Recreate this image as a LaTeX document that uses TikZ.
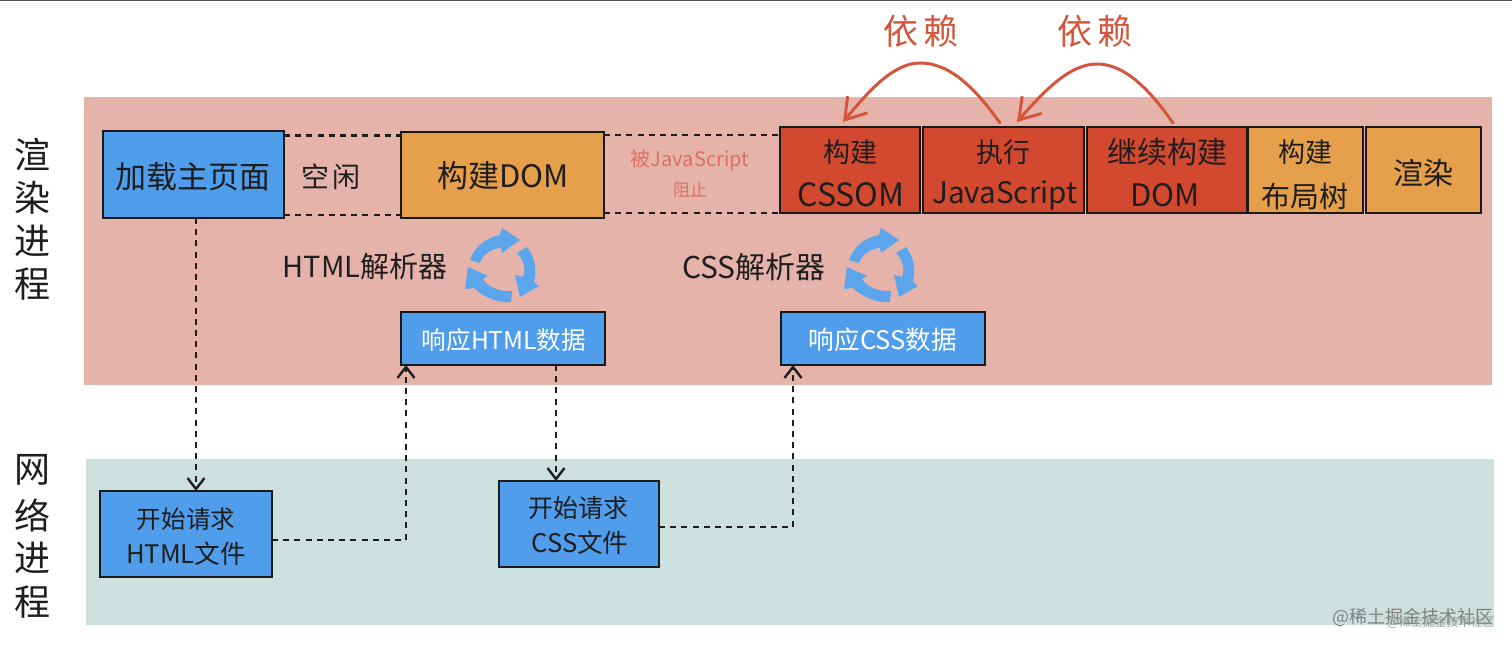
\documentclass[tikz,border=0pt]{standalone}
\usepackage{fontspec}
\setmainfont{Noto Sans CJK SC}
\usetikzlibrary{arrows.meta}
\definecolor{bandred}{HTML}{E6B3AB}
\definecolor{bandgreen}{HTML}{CCE1DE}
\definecolor{bluebox}{HTML}{4F9DEB}
\definecolor{orangebox}{HTML}{E69F4B}
\definecolor{redbox}{HTML}{D2492F}
\definecolor{curvered}{HTML}{D4553C}
\definecolor{ink}{HTML}{1E1E1E}
\definecolor{blockedtext}{HTML}{DC7068}
\definecolor{cyc}{HTML}{5AA5EC}
\newcommand{\fz}[1]{\fontsize{#1}{#1}\selectfont}
\tikzset{
  x=0.5pt,y=-0.5pt,
  flowbox/.style={draw=ink!85!black,line width=0.8pt,inner sep=0pt,outer sep=0pt},
  bluestyle/.style={flowbox,fill=bluebox},
  orangestyle/.style={flowbox,fill=orangebox},
  redstyle/.style={flowbox,fill=redbox},
  lab/.style={inner sep=0pt,outer sep=0pt,text=ink,align=center},
  dashline/.style={ink,line width=1.25pt,dash pattern=on 3pt off 2.6pt},
  conn/.style={ink,line width=1.25pt,dash pattern=on 3pt off 2.6pt,-{Straight Barb[length=5.5pt,width=8.5pt,line width=1.2pt]}},
  dep/.style={curvered,line width=1.5pt,line cap=round,-{Straight Barb[length=10pt,width=13pt,line width=1.5pt]}},
  pics/cycle/.style={code={
    \fill[cyc] (-32,-5) .. controls (-28,-18) and (-15,-28) .. (-2,-30) -- (0,-37) -- (18,-25) -- (0,-12) -- (-1,-17) .. controls (-10,-17) and (-20,-10) .. (-22,-2) -- cycle;
    \fill[cyc] (25,-18) .. controls (33,-8) and (35,5) .. (32,17) -- (37,21) -- (18,32) -- (13,10) -- (21,12) .. controls (24,4) and (22,-5) .. (15,-12) -- cycle;
    \fill[cyc] (10,26) -- (9,37) .. controls (-3,38) and (-18,33) .. (-28,23) -- (-37,24) -- (-34,2) -- (-14,11) -- (-19,14) .. controls (-14,22) and (-3,27) .. (10,26) -- cycle;
  }}
}
\begin{document}
\begin{tikzpicture}
\useasboundingbox (0,0) rectangle (1512,646);
\fill[white] (0,0) rectangle (1512,646);
\fill[black!65] (0,0) rectangle (1512,1.5);
\fill[bandred] (84,97) rectangle (1492,385);
\fill[bandgreen] (86,459) rectangle (1494,625);

% side labels
\node[lab,font=\fz{18}] (sr1) at (33,154) {渲};
\node[lab,font=\fz{18}] (sr2) at (33,198) {染};
\node[lab,font=\fz{18}] (sr3) at (33,241) {进};
\node[lab,font=\fz{18}] (sr4) at (33,284) {程};
\node[lab,font=\fz{18}] (sn1) at (33,470) {网};
\node[lab,font=\fz{18}] (sn2) at (33,515) {络};
\node[lab,font=\fz{18}] (sn3) at (33,558) {进};
\node[lab,font=\fz{18}] (sn4) at (33,602) {程};

% top row boxes
\node[bluestyle,minimum width=90.5pt,minimum height=43.5pt] (load) at (193.5,174.5) {};
\node[orangestyle,minimum width=101.5pt,minimum height=43pt] (dom) at (502.5,175) {};
\node[redstyle,minimum width=70pt,minimum height=43pt] (cssom) at (850,170) {};
\node[redstyle,minimum width=80.5pt,minimum height=43pt] (js) at (1003.5,170) {};
\node[redstyle,minimum width=80pt,minimum height=43pt] (dom2) at (1167,170) {};
\node[orangestyle,minimum width=57.5pt,minimum height=43pt] (layout) at (1305.5,170) {};
\node[orangestyle,minimum width=57.5pt,minimum height=43pt] (paint) at (1423.5,170) {};

% top row texts
\node[lab,font=\fz{15.5}] (load-t) at (193,177) {加载主页面};
\node[lab,font=\fz{14}] (idle) at (331,177) {空\hspace{1.5pt}闲};
\node[lab,font=\fz{15.5}] (dom-t) at (503,176) {构建DOM};
\node[lab,text=blockedtext,font=\fz{10}] (bl1) at (690,160) {被JavaScript};
\node[lab,text=blockedtext,font=\fz{8.5}] (bl2) at (690,190) {阻止};
\node[lab,font=\fz{13.5}] (cssom-a) at (850,152) {构建};
\node[lab,font=\fz{16}] (cssom-b) at (851,195) {CSSOM};
\node[lab,font=\fz{13.5}] (js-a) at (1003,152) {执行};
\node[lab,font=\fz{14.8}] (js-b) at (1005,195) {JavaScript};
\node[lab,font=\fz{15}] (dom2-a) at (1167,152) {继续构建};
\node[lab,font=\fz{15.5}] (dom2-b) at (1165,195) {DOM};
\node[lab,font=\fz{13.5}] (layout-a) at (1305,152) {构建};
\node[lab,font=\fz{14.5}] (layout-b) at (1305,196) {布局树};
\node[lab,font=\fz{15}] (paint-t) at (1423,173) {渲染};

% dashed edges
\draw[dashline] ([yshift=19.5pt]load.east) -- ([yshift=19.5pt]load.east -| dom.west);
\draw[dashline] ([yshift=-20.25pt]load.east) -- ([yshift=-20.25pt]load.east -| dom.west);
\draw[dashline] ([yshift=20pt]dom.east) -- ([yshift=20pt]dom.east -| cssom.west);
\draw[dashline] ([yshift=-19pt]dom.east) -- ([yshift=-19pt]dom.east -| cssom.west);

% parsers
\node[lab,font=\fz{14.5}] (hp) at (365,267) {HTML解析器};
\node[lab,font=\fz{15}] (cp) at (754,267) {CSS解析器};
\pic at (502,265) {cycle};
\pic at (881,265) {cycle};

\node[bluestyle,minimum width=102pt,minimum height=26.5pt] (hresp) at (503,338.5) {};
\node[bluestyle,minimum width=102pt,minimum height=26.5pt] (cresp) at (883,338.5) {};
\node[lab,text=white,font=\fz{12.3}] (hresp-t) at (504,340) {响应HTML数据};
\node[lab,text=white,font=\fz{12.8}] (cresp-t) at (883,340) {响应CSS数据};

% network row
\node[bluestyle,minimum width=86pt,minimum height=43pt] (hreq) at (186,534) {};
\node[bluestyle,minimum width=80pt,minimum height=43pt] (creq) at (579,524) {};
\node[lab,font=\fz{12.3}] (hreq-a) at (186,519) {开始请求};
\node[lab,font=\fz{12.8}] (hreq-b) at (186,554) {HTML文件};
\node[lab,font=\fz{12.5}] (creq-a) at (578,508) {开始请求};
\node[lab,font=\fz{12.8}] (creq-b) at (580,543) {CSS文件};

% connectors
\draw[conn] ([xshift=1.25pt]load.south) -- ([xshift=1.25pt]load.south |- hreq.north);
\draw[conn] ([yshift=-3pt]hreq.east) -| ([xshift=2.5pt]hresp.south west);
\draw[conn] ([xshift=26.5pt]hresp.south) -- ([xshift=26.5pt]hresp.south |- creq.north);
\draw[conn] ([yshift=-1.5pt]creq.east) -| ([xshift=6pt]cresp.south west);

% dependency curves
\node[lab,text=curvered,font=\fz{17.5}] (d1) at (921,31) {依\hspace{2.5pt}赖};
\node[lab,text=curvered,font=\fz{17.5}] (d2) at (1095,31) {依\hspace{2.5pt}赖};
\coordinate (js-from) at ([xshift=-1.75pt,yshift=2pt]js.north);
\coordinate (cssom-to) at ([xshift=-3.5pt,yshift=2.5pt]cssom.north);
\coordinate (dom-from) at ([xshift=3pt,yshift=2pt]dom2.north);
\coordinate (js-to) at ([xshift=6.75pt,yshift=2.5pt]js.north);
\draw[dep] (js-from) .. controls (975,88) and (950,63) .. (920,63) .. controls (893,63) and (868,92) .. (cssom-to);
\draw[dep] (dom-from) .. controls (1150,90) and (1125,64) .. (1097,64) .. controls (1070,64) and (1045,90) .. (js-to);

% watermark
\node[lab,text=black!50,font=\fz{9}] (wm1) at (1413,617) {@稀土掘金技术社区};
\node[lab,text=black!40,font=\fz{6}] (wm2) at (1441,622) {@稀土掘金技术社区};
\end{tikzpicture}
\end{document}
